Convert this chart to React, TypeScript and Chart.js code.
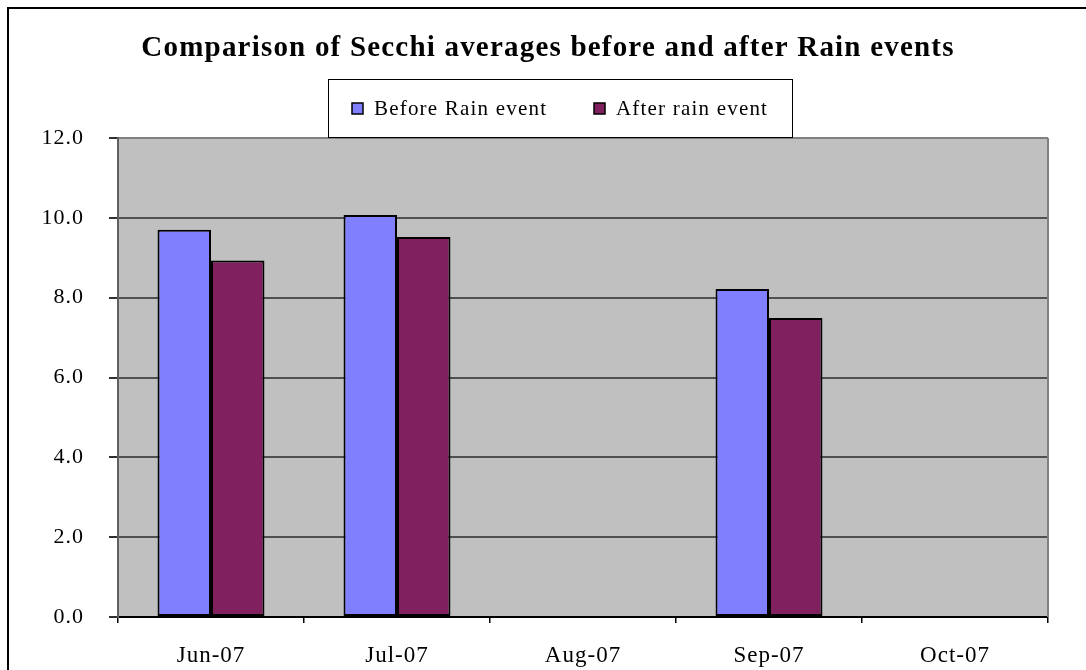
import React, { useEffect, useRef } from "react";
import { Chart, registerables } from "chart.js";

Chart.register(...registerables);

const titleText = "Comparison of Secchi averages before and after Rain events";
const categories = ["Jun-07", "Jul-07", "Aug-07", "Sep-07", "Oct-07"];
const beforeRain: (number | null)[] = [9.7, 10.07, null, 8.22, null];
const afterRain: (number | null)[] = [8.93, 9.52, null, 7.49, null];
const seriesLabels = ["Before Rain event", "After rain event"];
const seriesColors = ["#8080FF", "#80205F"];
const yMin = 0;
const yMax = 12;
const yStep = 2;

const FONT = "'Liberation Serif', 'Times New Roman', serif";

const framePlugin = {
  id: "frame",
  beforeDraw(chart: any) {
    const { ctx, chartArea: a } = chart;
    ctx.save();
    ctx.fillStyle = "#ffffff";
    ctx.fillRect(0, 0, chart.width, chart.height);
    ctx.fillStyle = "#C0C0C0";
    ctx.fillRect(a.left, a.top, a.right - a.left, a.bottom - a.top);
    ctx.strokeStyle = "#000000";
    ctx.lineWidth = 2;
    ctx.beginPath();
    ctx.moveTo(8, chart.height + 4);
    ctx.lineTo(8, 8);
    ctx.lineTo(chart.width + 4, 8);
    ctx.stroke();
    ctx.restore();
    // slightly wider tracking for tick labels (reference font is a wide old-style serif)
    ctx.letterSpacing = "1px";
  },
  beforeDatasetsDraw(chart: any) {
    const { ctx, chartArea: a } = chart;
    ctx.save();
    ctx.strokeStyle = "#808080";
    ctx.lineWidth = 2;
    ctx.beginPath();
    ctx.moveTo(a.right, a.top);
    ctx.lineTo(a.right, a.bottom);
    ctx.stroke();
    ctx.restore();
  },
  afterDraw(chart: any) {
    const { ctx } = chart;
    ctx.save();
    // title
    ctx.fillStyle = "#000";
    ctx.font = `bold 29px ${FONT}`;
    ctx.letterSpacing = "1.2px";
    ctx.textAlign = "center";
    ctx.textBaseline = "alphabetic";
    ctx.fillText(titleText, 548, 56);
    // legend box
    const bx = 328, by = 79, bw = 464, bh = 58;
    ctx.fillStyle = "#ffffff";
    ctx.fillRect(bx, by, bw, bh);
    ctx.strokeStyle = "#000";
    ctx.lineWidth = 1;
    ctx.strokeRect(bx + 0.5, by + 0.5, bw, bh);
    ctx.font = `21px ${FONT}`;
    ctx.letterSpacing = "1.2px";
    ctx.textAlign = "left";
    const itemX = [352, 594];
    chart.data.datasets.forEach((ds: any, i: number) => {
      const x = itemX[i];
      ctx.fillStyle = ds.backgroundColor;
      ctx.fillRect(x, 103, 11, 11);
      ctx.lineWidth = 1.5;
      ctx.strokeStyle = "#000";
      ctx.strokeRect(x, 103, 11, 11);
      ctx.fillStyle = "#000";
      ctx.fillText(ds.label, x + 22, 115);
    });
    ctx.restore();
  },
};

export default function App() {
  const ref = useRef<HTMLCanvasElement>(null);
  useEffect(() => {
    if (!ref.current) return;
    const chart = new Chart(ref.current, {
      type: "bar",
      data: {
        labels: categories,
        datasets: [
          {
            label: seriesLabels[0],
            data: beforeRain,
            backgroundColor: seriesColors[0],
            borderColor: "#000",
            borderWidth: 2,
            borderSkipped: false,
            categoryPercentage: 0.575,
            barPercentage: 1,
          },
          {
            label: seriesLabels[1],
            data: afterRain,
            backgroundColor: seriesColors[1],
            borderColor: "#000",
            borderWidth: 2,
            borderSkipped: false,
            categoryPercentage: 0.575,
            barPercentage: 1,
          },
        ],
      },
      options: {
        responsive: false,
        animation: false,
        devicePixelRatio: 1,
        layout: { padding: { top: 138, right: 38, left: 0, bottom: 0 } },
        plugins: {
          legend: { display: false },
          title: { display: false },
          tooltip: { enabled: false },
        },
        scales: {
          x: {
            offset: true,
            afterFit: (s: any) => { s.height = 53; },
            grid: {
              display: true,
              offset: true,
              drawOnChartArea: false,
              drawTicks: true,
              tickLength: 6,
              color: "#000",
              lineWidth: 1.5,
            },
            border: { display: true, color: "#000", width: 2 },
            ticks: {
              color: "#000",
              font: { family: FONT, size: 23 },
              padding: 19,
              maxRotation: 0,
            },
          },
          y: {
            min: yMin,
            max: yMax,
            afterFit: (s: any) => { s.width = 118; },
            grid: {
              color: (c: any) =>
                c.tick && c.tick.value === yMax ? "#808080" : c.tick && c.tick.value === yMin ? "#000" : "#505050",
              lineWidth: 2,
              drawTicks: true,
              tickLength: 9,
              tickColor: "#303030",
            },
            border: { display: true, color: "#606060", width: 2 },
            ticks: {
              stepSize: yStep,
              color: "#000",
              font: { family: FONT, size: 22 },
              padding: 25,
              callback: (v: any) => Number(v).toFixed(1),
            },
          },
        },
      },
      plugins: [framePlugin],
    });
    return () => chart.destroy();
  }, []);
  return (
    <div style={{ position: "absolute", left: 0, top: 0, width: 1086, height: 670 }}>
      <canvas ref={ref} width={1086} height={670} style={{ display: "block" }} />
    </div>
  );
}
